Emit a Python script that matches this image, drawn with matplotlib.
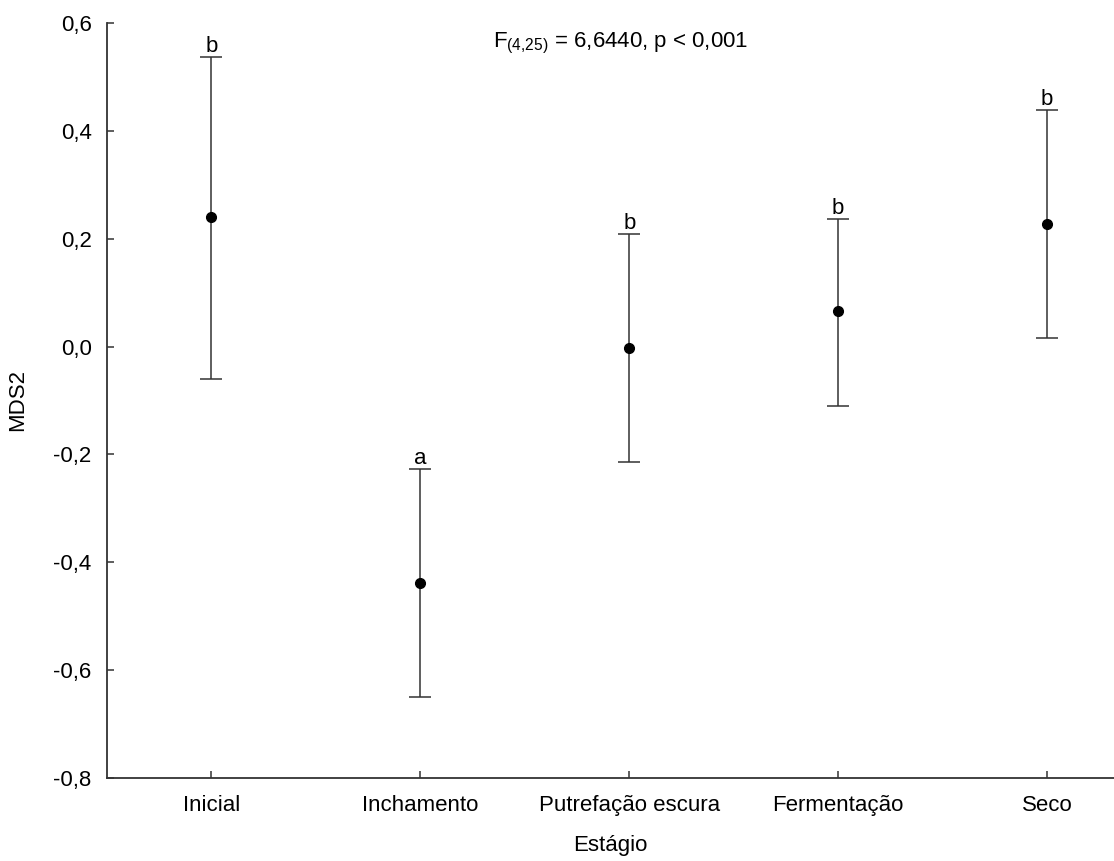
import matplotlib.pyplot as plt
from matplotlib.ticker import FuncFormatter

plt.rcParams['font.family'] = ['Liberation Sans', 'DejaVu Sans']
plt.rcParams['mathtext.fontset'] = 'custom'
plt.rcParams['mathtext.rm'] = 'Liberation Sans'

# estágios de decomposição
estagios = ['Inicial', 'Inchamento', 'Putrefação escura', 'Fermentação', 'Seco']
media = [0.241, -0.438, -0.002, 0.065, 0.228]
sup = [0.537, -0.228, 0.208, 0.236, 0.438]
inf = [-0.061, -0.650, -0.214, -0.110, 0.015]
letras = ['b', 'a', 'b', 'b', 'b']

x = list(range(len(estagios)))
err_inf = [m - l for m, l in zip(media, inf)]
err_sup = [u - m for m, u in zip(media, sup)]

fs = 16
fig = plt.figure(figsize=(11.14, 8.61), dpi=100)
ax = fig.add_axes([0.096, 0.0964, 0.904, 0.877])

cor = '#333333'
ax.errorbar(x, media, yerr=[err_inf, err_sup], fmt='o', color='black',
            ecolor=cor, elinewidth=1.1, capsize=8, capthick=1.1, markersize=7)

for xi, u, l in zip(x, sup, letras):
    ax.annotate(l, (xi, u), xytext=(0, 0), textcoords='offset points',
                ha='center', va='bottom', fontsize=fs, color='black')

ax.text(0.51, 0.99, r'F$_{(4{,}25)}$ = 6,6440, p < 0,001', transform=ax.transAxes,
        ha='center', va='top', fontsize=fs)

ax.set_xlim(-0.5, 4.32)
ax.set_ylim(-0.8, 0.6)
ax.set_xticks(x)
ax.set_xticklabels(estagios)
ax.set_yticks([-0.8, -0.6, -0.4, -0.2, 0.0, 0.2, 0.4, 0.6])
ax.yaxis.set_major_formatter(FuncFormatter(lambda v, p: f'{v:.1f}'.replace('.', ',').replace('-0,0', '0,0')))
ax.tick_params(direction='in', length=5, width=1.1, color=cor, labelsize=fs)
ax.tick_params(axis='y', pad=11)
ax.tick_params(axis='x', pad=12)

ax.spines['top'].set_visible(False)
ax.spines['right'].set_visible(False)
for s in ['left', 'bottom']:
    ax.spines[s].set_color(cor)
    ax.spines[s].set_linewidth(1.3)

ax.set_xlabel('Estágio', fontsize=fs, labelpad=14)
ax.set_ylabel('MDS2', fontsize=fs, labelpad=18)

fig.savefig('out.png', dpi=100)
